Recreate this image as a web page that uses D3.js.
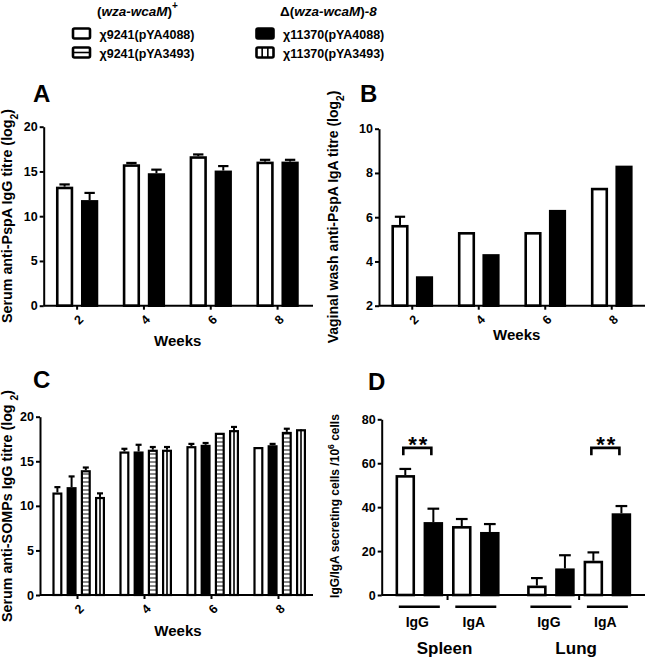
<!DOCTYPE html>
<html><head><meta charset="utf-8">
<script src="https://cdn.jsdelivr.net/npm/d3@7"></script>
<style>body{margin:0;background:#fff}svg text{font-family:Arial,"Liberation Sans",sans-serif;fill:#000}</style>
</head><body><svg id="c" width="650" height="658"></svg>
<script>
// ---------- data ----------
const weeks = ["2", "4", "6", "8"];
const seriesAB = ["pYA4088_wt", "pYA4088_mut"];
const seriesC = ["pYA4088_wt", "pYA4088_mut", "pYA3493_wt", "pYA3493_mut"];

const aWhite = [13.3, 15.8, 16.7, 16.1];
const aWhiteErr = [0.25, 0.15, 0.2, 0.2];
const aBlack = [11.8, 14.8, 15.1, 16.1];
const aBlackErr = [0.8, 0.4, 0.5, 0.2];

const bWhite = [5.65, 5.33, 5.33, 7.33];
const bWhiteErr = [0.37, 0, 0, 0];
const bBlack = [3.33, 4.33, 6.33, 8.33];
const bBlackErr = [0, 0, 0, 0];

const cWhite = [11.5, 16.1, 16.7, 16.6];
const cWhiteErr = [0.6, 0.3, 0.25, 0];
const cBlack = [12.1, 16.1, 16.85, 16.8];
const cBlackErr = [1.2, 0.75, 0.2, 0.15];
const cHoriz = [14.0, 16.3, 18.2, 18.3];
const cHorizErr = [0.3, 0.3, 0, 0.35];
const cVert = [11.0, 16.3, 18.5, 18.6];
const cVertErr = [0.4, 0.3, 0.35, 0];

const organs = ["Spleen", "Lung"];
const isotypes = ["IgG", "IgA"];
const dWhite = [54.6, 31.4, 4.3, 15.6];
const dWhiteErr = [2.8, 3.2, 3.4, 3.8];
const dBlack = [33.2, 28.7, 12.1, 37.2];
const dBlackErr = [6.1, 3.6, 6.0, 3.3];
const dSignif = [{organ: "Spleen", iso: "IgG", y: 67}, {organ: "Lung", iso: "IgA", y: 67}];

const ticksA = [0, 5, 10, 15, 20];
const ticksB = [2, 4, 6, 8, 10];
const ticksC = [0, 5, 10, 15, 20];
const ticksD = [0, 20, 40, 60, 80];

// ---------- setup ----------
const svg = d3.select("#c");
const defs = svg.append("defs");
const hp = defs.append("pattern").attr("id", "hstripe").attr("patternUnits", "userSpaceOnUse")
  .attr("width", 8).attr("height", 4);
hp.append("rect").attr("width", 8).attr("height", 4).attr("fill", "#fff");
hp.append("line").attr("x1", 0).attr("x2", 8).attr("y1", 2).attr("y2", 2).attr("stroke", "#555").attr("stroke-width", 1.4);

const styles = {
  white: {fill: "#fff"},
  black: {fill: "#000"},
  horiz: {fill: "url(#hstripe)"},
  vert: {fill: "#fff", vline: true}
};

function yAxis(g, y, x0, ticks) {
  const ax = g.append("g").attr("transform", `translate(${x0},0)`)
    .call(d3.axisLeft(y).tickValues(ticks).tickSize(4).tickPadding(2).tickSizeOuter(0));
  ax.select(".domain").attr("stroke-width", 2).attr("stroke", "#000");
  ax.selectAll(".tick line").attr("stroke-width", 2).attr("stroke", "#000");
  ax.selectAll("text").attr("font-size", 12.5).attr("font-weight", "bold")
    .attr("font-family", "Arial, 'Liberation Sans', sans-serif").attr("fill", "#000");
}

function weekAxis(g, x, y0, xStart, xEnd) {
  g.append("line").attr("x1", xStart).attr("x2", xEnd).attr("y1", y0).attr("y2", y0)
    .attr("stroke", "#000").attr("stroke-width", 2);
  const ax = g.append("g").attr("transform", `translate(0,${y0})`)
    .call(d3.axisBottom(x).tickSize(4).tickSizeOuter(0));
  ax.select(".domain").remove();
  ax.selectAll(".tick line").attr("stroke-width", 2).attr("stroke", "#000");
  ax.selectAll(".tick text").attr("y", null).attr("dy", null)
    .attr("transform", "translate(1.5,14) rotate(-45)").attr("dy", "0.35em")
    .attr("text-anchor", "middle").attr("font-size", 12.5).attr("font-weight", "bold")
    .attr("font-family", "Arial, 'Liberation Sans', sans-serif").attr("fill", "#000");
}

function drawBars(g, cx, w, y, y0, vals, errs, style, sw) {
  const data = vals.map((v, i) => ({v, e: errs[i], x: cx(i)}));
  const capW = w * 0.6;
  data.filter(d => d.e > 0).forEach(d => {
    g.append("line").attr("x1", d.x).attr("x2", d.x).attr("y1", y(d.v)).attr("y2", y(d.v + d.e))
      .attr("stroke", "#000").attr("stroke-width", 2);
    g.append("line").attr("x1", d.x - capW / 2).attr("x2", d.x + capW / 2)
      .attr("y1", y(d.v + d.e)).attr("y2", y(d.v + d.e))
      .attr("stroke", "#000").attr("stroke-width", 2.2);
  });
  g.selectAll(null).data(data).join("rect")
    .attr("x", d => d.x - w / 2 + sw / 2).attr("width", w - sw)
    .attr("y", d => y(d.v) + sw / 2).attr("height", d => Math.max(0, y0 - y(d.v) - sw / 2))
    .attr("fill", style.fill).attr("stroke", "#000").attr("stroke-width", sw);
  if (style.vline) {
    g.selectAll(null).data(data).join("line")
      .attr("x1", d => d.x).attr("x2", d => d.x).attr("y1", d => y(d.v)).attr("y2", y0)
      .attr("stroke", "#000").attr("stroke-width", 1.6);
  }
}

function yTitle(g, x, yc, size, parts) {
  const t = g.append("text").attr("transform", `translate(${x},${yc}) rotate(-90)`)
    .attr("text-anchor", "middle").attr("font-size", size).attr("font-weight", "bold");
  parts.forEach(p => {
    const s = t.append("tspan").text(p.t);
    if (p.sub) s.attr("font-size", size * 0.72).attr("baseline-shift", "sub");
    if (p.sup) s.attr("font-size", size * 0.72).attr("baseline-shift", "super");
  });
}

function panelLabel(x, y, txt) {
  svg.append("text").attr("x", x).attr("y", y).attr("font-size", 24).attr("font-weight", "bold").text(txt);
}

// ---------- Legend ----------
const lg = svg.append("g").attr("font-weight", "bold");
const h1 = lg.append("text").attr("x", 97).attr("y", 16).attr("font-size", 13.5);
h1.append("tspan").text("(");
h1.append("tspan").attr("font-style", "italic").text("wza-wcaM");
h1.append("tspan").text(")");
h1.append("tspan").attr("font-size", 10).attr("dy", -7).text("+");
const h2 = lg.append("text").attr("x", 280).attr("y", 16).attr("font-size", 13.5);
h2.append("tspan").text("Δ(");
h2.append("tspan").attr("font-style", "italic").text("wza-wcaM");
h2.append("tspan").text(")");
h2.append("tspan").attr("font-style", "italic").text("-8");

const legendItems = [
  {x: 73, y: 28.5, label: "χ9241(pYA4088)", kind: "white"},
  {x: 73, y: 47.5, label: "χ9241(pYA3493)", kind: "hbox"},
  {x: 256.5, y: 28.5, label: "χ11370(pYA4088)", kind: "black"},
  {x: 256.5, y: 47.5, label: "χ11370(pYA3493)", kind: "vbox"}
];
legendItems.forEach(it => {
  lg.append("rect").attr("x", it.x).attr("y", it.y).attr("width", 17).attr("height", 10).attr("rx", 1.5)
    .attr("fill", it.kind === "black" ? "#000" : "#fff").attr("stroke", "#000").attr("stroke-width", 2.6);
  if (it.kind === "hbox") lg.append("line").attr("x1", it.x).attr("x2", it.x + 17).attr("y1", it.y + 5).attr("y2", it.y + 5)
    .attr("stroke", "#000").attr("stroke-width", 1.6);
  if (it.kind === "vbox") [17 / 3, 34 / 3].forEach(dx => lg.append("line").attr("x1", it.x + dx).attr("x2", it.x + dx)
    .attr("y1", it.y).attr("y2", it.y + 10).attr("stroke", "#000").attr("stroke-width", 1.6));
  lg.append("text").attr("x", it.x + 26.5).attr("y", it.y + 10).attr("font-size", 12.5).text(it.label);
});

// ---------- Panel A ----------
{
  const g = svg.append("g");
  const y = d3.scaleLinear().domain([0, 20]).range([305.7, 126.7]);
  const x = d3.scaleBand().domain(weeks).range([43.7, 311]);
  const inner = d3.scaleBand().domain(seriesAB).range([0, 42.3]).paddingInner(0.31);
  const off = x.bandwidth() / 2 - 21.15;
  const bw = inner.bandwidth();
  drawBars(g, i => x(weeks[i]) + off + inner(seriesAB[0]) + bw / 2, bw, y, y(0), aWhite, aWhiteErr, styles.white, 2.6);
  drawBars(g, i => x(weeks[i]) + off + inner(seriesAB[1]) + bw / 2, bw, y, y(0), aBlack, aBlackErr, styles.black, 2.6);
  yAxis(g, y, 43.7, ticksA);
  weekAxis(g, x, y(0), 43.7, 313);
  g.append("text").attr("x", 177.7).attr("y", 346).attr("text-anchor", "middle").attr("font-size", 15).attr("font-weight", "bold").text("Weeks");
  yTitle(g, 12, 216, 14.3, [{t: "Serum anti-PspA IgG titre (log"}, {t: "2", sub: true}, {t: ")"}]);
  panelLabel(33, 101.5, "A");
}

// ---------- Panel B ----------
{
  const g = svg.append("g");
  const y = d3.scaleLinear().domain([2, 10]).range([305.7, 128.7]);
  const x = d3.scaleBand().domain(weeks).range([379, 645]);
  const inner = d3.scaleBand().domain(seriesAB).range([0, 41.7]).paddingInner(0.3);
  const off = x.bandwidth() / 2 - 20.85;
  const bw = inner.bandwidth();
  drawBars(g, i => x(weeks[i]) + off + inner(seriesAB[0]) + bw / 2, bw, y, y(2), bWhite, bWhiteErr, styles.white, 2.6);
  drawBars(g, i => x(weeks[i]) + off + inner(seriesAB[1]) + bw / 2, bw, y, y(2), bBlack, bBlackErr, styles.black, 2.6);
  yAxis(g, y, 379, ticksB);
  weekAxis(g, x, y(2), 379, 645);
  g.append("text").attr("x", 516.7).attr("y", 339.5).attr("text-anchor", "middle").attr("font-size", 15).attr("font-weight", "bold").text("Weeks");
  yTitle(g, 338, 217, 14, [{t: "Vaginal wash anti-PspA IgA titre (log"}, {t: "2", sub: true}, {t: ")"}]);
  panelLabel(360, 101.5, "B");
}

// ---------- Panel C ----------
{
  const g = svg.append("g");
  const y = d3.scaleLinear().domain([0, 20]).range([595, 416.7]);
  const x = d3.scaleBand().domain(weeks).range([44, 312]);
  const inner = d3.scaleBand().domain(seriesC).range([0, 52.6]).paddingInner(0.296);
  const off = x.bandwidth() / 2 - 26.3 + 1.2;
  const bw = inner.bandwidth();
  const vals = [cWhite, cBlack, cHoriz, cVert];
  const errs = [cWhiteErr, cBlackErr, cHorizErr, cVertErr];
  const st = [styles.white, styles.black, styles.horiz, styles.vert];
  seriesC.forEach((s, k) => {
    drawBars(g, i => x(weeks[i]) + off + inner(s) + bw / 2, bw, y, y(0), vals[k], errs[k], st[k], 2.2);
  });
  yAxis(g, y, 40, ticksC);
  weekAxis(g, x, y(0), 40, 313);
  g.append("text").attr("x", 178).attr("y", 635.5).attr("text-anchor", "middle").attr("font-size", 15).attr("font-weight", "bold").text("Weeks");
  yTitle(g, 12, 506, 14.3, [{t: "Serum anti-SOMPs IgG titre (log "}, {t: "2", sub: true}, {t: ")"}]);
  panelLabel(33, 388, "C");
}

// ---------- Panel D ----------
{
  const g = svg.append("g");
  const y = d3.scaleLinear().domain([0, 80]).range([595, 419.3]);
  const xo = d3.scaleBand().domain(organs).range([381.7, 645]).paddingInner(0.127).paddingOuter(0.064);
  const xi = d3.scaleBand().domain(isotypes).range([0, xo.bandwidth()]).paddingInner(0.11).paddingOuter(0.072);
  const xs = d3.scaleBand().domain(["w", "b"]).range([0, xi.bandwidth()]).paddingInner(0.304).paddingOuter(0.048);
  const groups = [];
  organs.forEach(o => isotypes.forEach(iso => groups.push({o, iso})));
  const bw = xs.bandwidth();
  const cx = (k, s) => xo(groups[k].o) + xi(groups[k].iso) + xs(s) + bw / 2;
  drawBars(g, k => cx(k, "w"), bw, y, y(0), dWhite, dWhiteErr, styles.white, 2.6);
  drawBars(g, k => cx(k, "b"), bw, y, y(0), dBlack, dBlackErr, styles.black, 2.6);
  yAxis(g, y, 381.7, ticksD);
  g.append("line").attr("x1", 381.7).attr("x2", 645).attr("y1", y(0)).attr("y2", y(0)).attr("stroke", "#000").attr("stroke-width", 2);
  organs.forEach(o => {
    const c = xo(o) + xo.bandwidth() / 2;
    g.append("line").attr("x1", c).attr("x2", c).attr("y1", y(0)).attr("y2", y(0) + 5).attr("stroke", "#000").attr("stroke-width", 2);
    g.append("text").attr("x", c - 3).attr("y", 654).attr("text-anchor", "middle").attr("font-size", 17).attr("font-weight", "bold").text(o);
  });
  groups.forEach((gr, k) => {
    const c = xo(gr.o) + xi(gr.iso) + xi.bandwidth() / 2;
    g.append("line").attr("x1", c - 20.5).attr("x2", c + 20.5).attr("y1", 606.7).attr("y2", 606.7).attr("stroke", "#000").attr("stroke-width", 2.6);
    g.append("text").attr("x", c - 2).attr("y", 627).attr("text-anchor", "middle").attr("font-size", 14).attr("font-weight", "bold").text(gr.iso);
  });
  dSignif.forEach(s => {
    const k = groups.findIndex(gr => gr.o === s.organ && gr.iso === s.iso);
    const x1 = cx(k, "w") - 2, x2 = cx(k, "b") - 2;
    g.append("path").attr("d", `M${x1},${y(s.y) + 7.5}V${y(s.y)}H${x2}V${y(s.y) + 7.5}`)
      .attr("fill", "none").attr("stroke", "#000").attr("stroke-width", 2.6);
    g.append("text").attr("x", (x1 + x2) / 2 + 1.5).attr("y", y(s.y) + 4.5).attr("text-anchor", "middle")
      .attr("font-size", 22).attr("font-weight", "bold").attr("letter-spacing", 2).text("**");
  });
  yTitle(g, 339, 506, 12, [{t: "IgG/IgA secreting cells /10"}, {t: "6", sup: true}, {t: "  cells"}]);
  panelLabel(368, 390, "D");
}
</script></body></html>
